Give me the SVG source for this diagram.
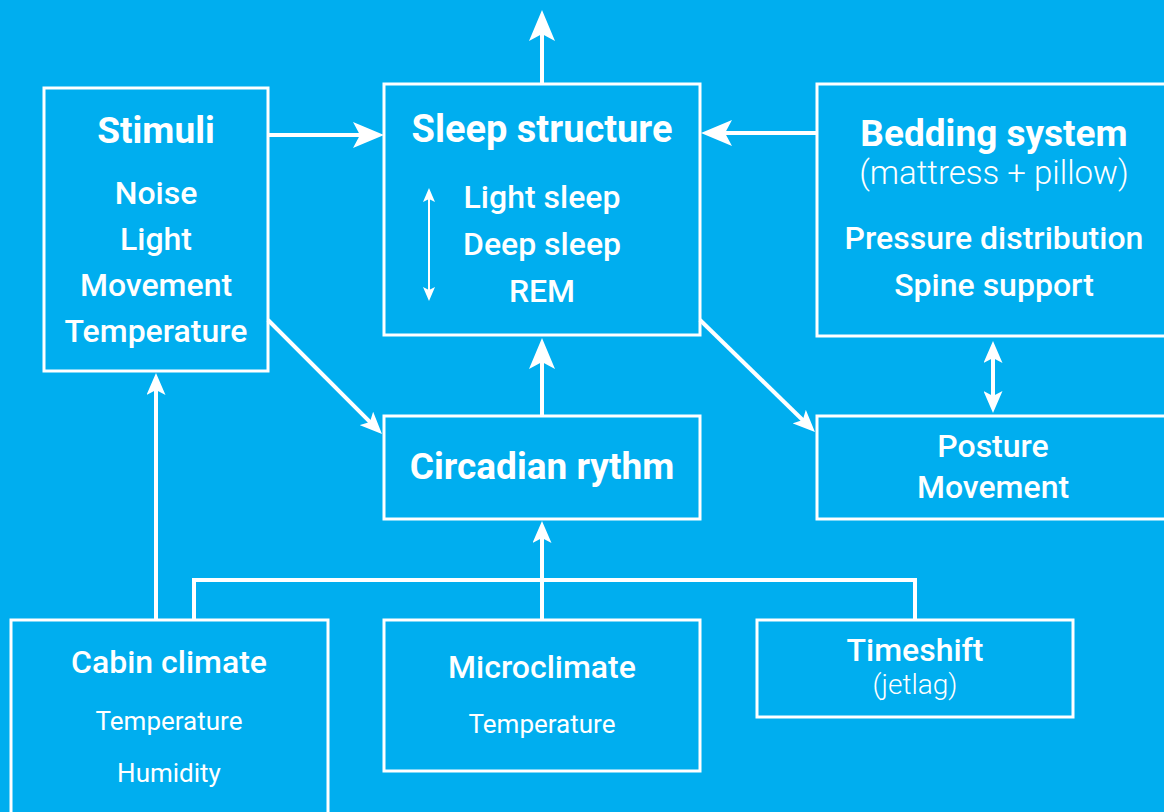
<svg xmlns="http://www.w3.org/2000/svg" width="1164" height="812" viewBox="0 0 1164 812">
<style>
.box{fill:none;stroke:#fff;stroke-width:3}
.con{fill:none;stroke:#fff;stroke-width:4}
.t{font-family:Roboto,"Liberation Sans",sans-serif;fill:#fff;text-anchor:middle}
.b{font-weight:bold;font-size:37px}
.m{font-size:32px;font-weight:500}
.s{font-size:26px;font-weight:400}
.l{font-weight:300;font-size:33px}
</style>
<defs>
<marker id="big" viewBox="0 0 31 26" refX="19" refY="13" markerWidth="31" markerHeight="26" markerUnits="userSpaceOnUse" orient="auto-start-reverse"><path d="M0,0 L31,13 L0,26 L7,13 Z" fill="#fff"/></marker>
<marker id="sm" viewBox="0 0 22 19" refX="12" refY="9.5" markerWidth="22" markerHeight="19" markerUnits="userSpaceOnUse" orient="auto-start-reverse"><path d="M0,0 L22,9.5 L0,19 L5,9.5 Z" fill="#fff"/></marker>
<marker id="tiny" viewBox="0 0 14 12" refX="8" refY="6" markerWidth="14" markerHeight="12" markerUnits="userSpaceOnUse" orient="auto-start-reverse"><path d="M0,0 L14,6 L0,12 L3,6 Z" fill="#fff"/></marker>
</defs>
<rect width="1164" height="812" fill="#00AEEF"/>
<g id="connectors">
<line class="con" x1="542" y1="84" x2="542" y2="22" marker-end="url(#big)"/>
<line class="con" x1="268" y1="135" x2="372" y2="135" marker-end="url(#big)"/>
<line class="con" x1="817" y1="133" x2="713" y2="133" marker-end="url(#big)"/>
<line class="con" x1="542" y1="415" x2="542" y2="350" marker-end="url(#big)"/>
<line class="con" x1="542" y1="620" x2="542" y2="531" marker-end="url(#sm)"/>
<polyline class="con" points="194,620 194,580 915,580 915,620"/>
<line class="con" x1="156" y1="620" x2="156" y2="383" marker-end="url(#sm)"/>
<line class="con" x1="993" y1="351" x2="993" y2="403" marker-start="url(#sm)" marker-end="url(#sm)"/>
<line class="con" x1="268" y1="320" x2="374.9" y2="426.9" marker-end="url(#sm)"/>
<line class="con" x1="700" y1="320" x2="807.8" y2="425" marker-end="url(#sm)"/>
<line class="con" style="stroke-width:2" x1="429" y1="194" x2="429" y2="295" marker-start="url(#tiny)" marker-end="url(#tiny)"/>
</g>
<g id="stimuli">
<rect class="box" x="44" y="88" width="224" height="283"/>
<text class="t b" x="156" y="143">Stimuli</text>
<text class="t m" x="156" y="204">Noise</text>
<text class="t m" x="156" y="250">Light</text>
<text class="t m" x="156" y="296">Movement</text>
<text class="t m" x="156" y="342">Temperature</text>
</g>
<g id="sleep">
<rect class="box" x="384" y="84" width="316" height="251"/>
<text class="t b" x="542" y="142" style="font-size:38px">Sleep structure</text>
<text class="t m" x="542" y="208">Light sleep</text>
<text class="t m" x="542" y="255">Deep sleep</text>
<text class="t m" x="542" y="302">REM</text>
</g>
<g id="bedding">
<rect class="box" x="817" y="84" width="350" height="252"/>
<text class="t b" x="994" y="146">Bedding system</text>
<text class="t l" x="994" y="184">(mattress + pillow)</text>
<text class="t m" x="994" y="249">Pressure distribution</text>
<text class="t m" x="994" y="296">Spine support</text>
</g>
<g id="posture">
<rect class="box" x="817" y="416" width="350" height="103"/>
<text class="t m" x="993" y="457">Posture</text>
<text class="t m" x="993" y="498">Movement</text>
</g>
<g id="circadian">
<rect class="box" x="384" y="416" width="316" height="103"/>
<text class="t b" x="542" y="479">Circadian rythm</text>
</g>
<g id="cabin">
<rect class="box" x="11" y="620" width="317" height="200"/>
<text class="t m" x="169" y="673">Cabin climate</text>
<text class="t s" x="169" y="730">Temperature</text>
<text class="t s" x="169" y="782">Humidity</text>
</g>
<g id="microclimate">
<rect class="box" x="384" y="620" width="316" height="151"/>
<text class="t m" x="542" y="678">Microclimate</text>
<text class="t s" x="542" y="733">Temperature</text>
</g>
<g id="timeshift">
<rect class="box" x="757" y="620" width="316" height="97"/>
<text class="t m" x="915" y="661">Timeshift</text>
<text class="t l" style="font-size:28px" x="915" y="694">(jetlag)</text>
</g>
</svg>
